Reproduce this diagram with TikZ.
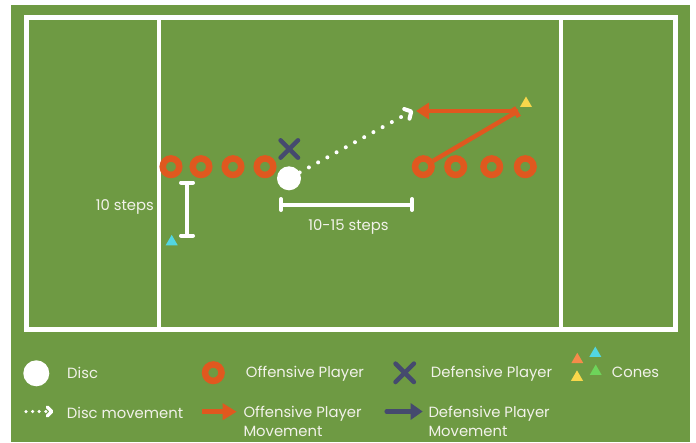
\documentclass[tikz,border=0pt]{standalone}
\usepackage{fontspec}
\setmainfont{Poppins}
\usetikzlibrary{arrows.meta,shapes.geometric}
\definecolor{fieldgreen}{HTML}{6E9A43}
\definecolor{offor}{HTML}{E0581F}
\definecolor{defnavy}{HTML}{454A6E}
\definecolor{txt}{HTML}{F2F2EA}
\definecolor{coneyellow}{HTML}{F9D74B}
\definecolor{conecyan}{HTML}{52D6E2}
\definecolor{conegreen}{HTML}{6ED45A}
\definecolor{coneorange}{HTML}{F58B4A}
\begin{document}
\begin{tikzpicture}[x=1pt,y=-1pt,
  ring/.style={circle,draw=offor,line width=6.5pt,minimum size=16.5pt,inner sep=0pt},
  disc/.style={circle,fill=white,minimum size=24pt,inner sep=0pt},
  defender/.style={rectangle,minimum size=17pt,inner sep=0pt},
  defline/.style={draw=defnavy,line width=4.5pt,line cap=round},
  cone/.style={regular polygon,regular polygon sides=3,minimum size=13.9pt,inner sep=0pt},
  fieldline/.style={draw=white,line width=5pt},
  midline/.style={draw=white,line width=4pt},
  measure/.style={draw=white,line width=4pt,line cap=round},
  discmove/.style={draw=white,line width=4pt,line cap=round,dash pattern=on 0pt off 10.5pt},
  offmove/.style={draw=offor,line width=4.5pt},
  defmove/.style={draw=defnavy,line width=4.5pt},
  lbl/.style={text=txt,font=\fontsize{14.8}{19}\selectfont,inner sep=0pt,anchor=base west,align=left},
  flbl/.style={text=txt,font=\fontsize{14.8}{18}\selectfont,inner sep=0pt}]
\useasboundingbox (0,0) rectangle (696,442);
\fill[white] (0,0) rectangle (696,442);
\fill[fieldgreen] (11,5) rectangle (690,442);
% field
\draw[fieldline] (26.5,17.5) rectangle (675,329.5);
\draw[midline] (159,17.5) -- (159,329.5);
\draw[midline] (561,17.5) -- (561,329.5);
% offensive players
\node[ring] (l1) at (171,166.7) {};
\node[ring] (l2) at (201,166.7) {};
\node[ring] (l3) at (233,166.7) {};
\node[ring] (l4) at (265,166.7) {};
\node[ring] (r1) at (423.3,166.7) {};
\node[ring] (r2) at (455.7,166.7) {};
\node[ring] (r3) at (491.7,166.7) {};
\node[ring] (r4) at (525.3,166.7) {};
% disc and defender
\node[disc] (disc) at (289,178.3) {};
\node[defender] (def) at (289.3,149) {};
\draw[defline] (def.north west) -- (def.south east) (def.north east) -- (def.south west);
% cones
\node[cone,fill=coneyellow] (cy) at (526,103.5) {};
\node[cone,fill=conecyan] (cc) at (171.7,241.8) {};
% disc movement
\coordinate (passend) at (413,110.5);
\draw[discmove,-{Straight Barb[length=5pt,width=11pt,round]}] (disc) -- (passend);
% offensive movement
\coordinate (turn) at (518,111);
\coordinate (cut) at (416,111);
\draw[offmove,-{Bar[width=11pt]}] (r1) -- (turn);
\draw[offmove,-{Triangle[length=13pt,width=16pt]}] (turn) -- (cut);
% measures
\coordinate (vt) at (187,180.5);
\coordinate (vb) at (187,237.5);
\draw[measure,{Bar[width=12pt,round]}-{Bar[width=12pt,round]}] (vt) -- (vb);
\node[flbl,anchor=base east] (t10) at (154,210) {10 steps};
\coordinate (hl) at (279,204.5);
\coordinate (hr) at (414,204.5);
\draw[measure,{Bar[width=11pt,round]}-{Bar[width=11pt,round]}] (hl) -- (hr);
\node[flbl,anchor=base] (t1015) at (348.5,230) {10-15 steps};
% legend row 1
\node[disc,minimum size=26pt] (ldisc) at (36.3,373.3) {};
\node[lbl] (tdisc) at (67,378.3) {Disc};
\node[ring] (lring) at (213.3,372.7) {};
\node[lbl] (toff) at (245.7,377.8) {Offensive Player};
\node[defender,minimum size=18pt] (ldef) at (404.7,372.8) {};
\draw[defline] (ldef.north west) -- (ldef.south east) (ldef.north east) -- (ldef.south west);
\node[lbl] (tdef) at (430.7,377.8) {Defensive Player};
\node[cone,fill=coneorange] (lco) at (577.3,359.7) {};
\node[cone,fill=conecyan] (lcc) at (595.3,353.5) {};
\node[cone,fill=coneyellow] (lcy) at (577,377.3) {};
\node[cone,fill=conegreen] (lcg) at (595.7,371.5) {};
\node[lbl] (tcones) at (611.7,377.8) {Cones};
% legend row 2
\coordinate (lds) at (26,411.5);
\coordinate (lde) at (53.5,411.5);
\draw[draw=white,line width=3.5pt,line cap=round,dash pattern=on 0pt off 6.6pt,-{Straight Barb[length=4.5pt,width=9pt,round]}] (lds) -- (lde);
\node[lbl] (tdm) at (66.7,418) {Disc movement};
\coordinate (los) at (201.7,411.7);
\coordinate (loe) at (236.7,411.7);
\draw[offmove,-{Triangle[length=14pt,width=16pt]}] (los) -- (loe);
\node[lbl] (tom) at (243.3,436) {Offensive Player\\Movement};
\coordinate (lns) at (386.7,411.5);
\coordinate (lne) at (422.7,411.5);
\draw[defmove,line cap=round,-{Triangle[length=12pt,width=16pt]}] (lns) -- (lne);
\node[lbl] (tdmv) at (428.3,436) {Defensive Player\\Movement};
\end{tikzpicture}
\end{document}
